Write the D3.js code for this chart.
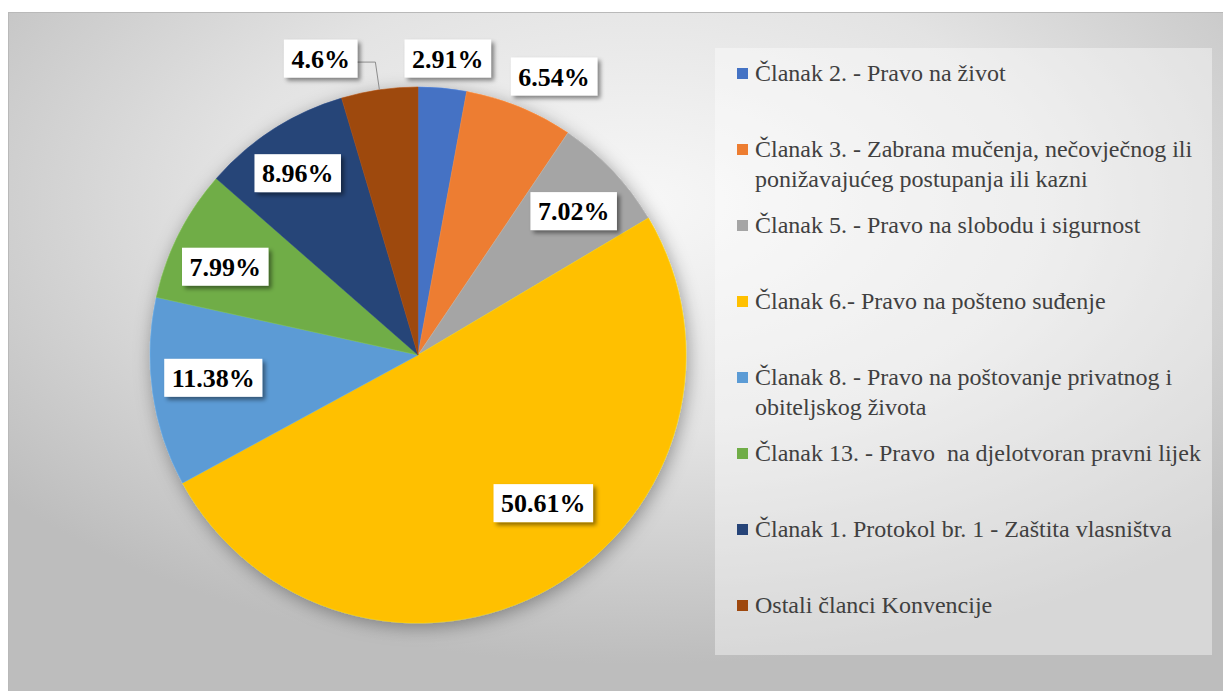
<!DOCTYPE html>
<html>
<head>
<meta charset="UTF-8">
<title>Članci Konvencije</title>
<script src="https://d3js.org/d3.v7.min.js"></script>
<style>
    body { margin: 0; background: #ffffff; }
    svg { display: block; }
</style>
</head>
<body>
<div id="chart"></div>
<script>
    // slice data, clockwise from 12 o'clock
    const categories = [
        "Članak 2. - Pravo na život",
        "Članak 3. - Zabrana mučenja, nečovječnog ili\nponižavajućeg postupanja ili kazni",
        "Članak 5. - Pravo na slobodu i sigurnost",
        "Članak 6.- Pravo na pošteno suđenje",
        "Članak 8. - Pravo na poštovanje privatnog i\nobiteljskog života",
        "Članak 13. - Pravo  na djelotvoran pravni lijek",
        "Članak 1. Protokol br. 1 - Zaštita vlasništva",
        "Ostali članci Konvencije"
    ];
    const shares = [2.91, 6.54, 7.02, 50.61, 11.38, 7.99, 8.96, 4.6];
    const colors = ["#4472C4", "#ED7D31", "#A5A5A5", "#FFC000", "#5B9BD5", "#70AD47", "#264478", "#9E480E"];

    // label placement (excel "best fit" look): distance from centre and angle nudge in degrees
    const labelRadius = [298, 310, 212, 194, 206, 212, 218, 312];
    const labelShift = [0.5, 3.8, 0.6, -10.6, 1.7, -2.2, -0.8, -9.9];
    const withLeader = [false, false, false, false, false, false, false, true];

    const fontSerif = "'Liberation Serif'";
    const width = 1223, height = 691;
    const cx = 418, cy = 355, radius = 268;

    const svg = d3.select("#chart").append("svg")
        .attr("width", width)
        .attr("height", height);

    const defs = svg.append("defs");
    const bg = defs.append("radialGradient")
        .attr("id", "bg")
        .attr("cx", "52%").attr("cy", "28%").attr("r", "68%");
    bg.append("stop").attr("offset", "0%").attr("stop-color", "#f7f7f7");
    bg.append("stop").attr("offset", "50%").attr("stop-color", "#e3e3e3");
    bg.append("stop").attr("offset", "100%").attr("stop-color", "#bdbdbd");

    defs.append("filter").attr("id", "pieShadow")
        .attr("x", "-20%").attr("y", "-20%").attr("width", "140%").attr("height", "140%")
        .append("feDropShadow")
        .attr("dx", 2).attr("dy", 4).attr("stdDeviation", 9)
        .attr("flood-color", "#000").attr("flood-opacity", 0.35);

    defs.append("filter").attr("id", "boxShadow")
        .attr("x", "-20%").attr("y", "-30%").attr("width", "150%").attr("height", "170%")
        .append("feDropShadow")
        .attr("dx", 3).attr("dy", 3).attr("stdDeviation", 2)
        .attr("flood-color", "#000").attr("flood-opacity", 0.45);

    // chart area
    svg.append("rect")
        .attr("x", 8.5).attr("y", 12.5)
        .attr("width", width - 8).attr("height", height - 12)
        .attr("fill", "url(#bg)")
        .attr("stroke", "#b9b9b9");

    // legend panel
    svg.append("rect")
        .attr("x", 715).attr("y", 48)
        .attr("width", 497).attr("height", 607)
        .attr("fill", "#ffffff").attr("fill-opacity", 0.4);

    const pie = d3.pie().value(d => d).sort(null);
    const arcs = pie(shares);
    const arc = d3.arc().innerRadius(0).outerRadius(radius);

    const g = svg.append("g").attr("transform", `translate(${cx},${cy})`);

    g.append("g")
        .attr("filter", "url(#pieShadow)")
        .selectAll("path")
        .data(arcs)
        .join("path")
        .attr("d", arc)
        .attr("fill", (d, i) => colors[i])
        .attr("stroke", (d, i) => d3.color(colors[i]).brighter(0.3))
        .attr("stroke-width", 0.6);

    const midAngle = d => (d.startAngle + d.endAngle) / 2;
    const polar = (a, r) => [Math.sin(a) * r, -Math.cos(a) * r];

    // leader lines
    arcs.forEach((d, i) => {
        if (!withLeader[i]) return;
        const a = midAngle(d);
        const p0 = polar(a, radius);
        const p1 = polar(a, radius + 28);
        const c = polar(a + labelShift[i] * Math.PI / 180, labelRadius[i]);
        g.append("polyline")
            .attr("points", [p0, p1, [c[0] + 30, p1[1]]].map(p => p.join(",")).join(" "))
            .attr("fill", "none")
            .attr("stroke", "#8c8c8c")
            .attr("stroke-width", 1);
    });

    // data labels
    const labels = g.selectAll("g.lbl")
        .data(arcs)
        .join("g")
        .attr("class", "lbl")
        .attr("transform", (d, i) => {
            const p = polar(midAngle(d) + labelShift[i] * Math.PI / 180, labelRadius[i]);
            return `translate(${p[0]},${p[1]})`;
        });

    labels.append("rect").attr("fill", "#ffffff").attr("filter", "url(#boxShadow)");
    labels.append("text")
        .attr("text-anchor", "middle")
        .attr("dy", "0.35em")
        .style("font-family", fontSerif)
        .style("font-size", "26px")
        .style("font-weight", "bold")
        .attr("fill", "#000")
        .text(d => (+d.data.toFixed(2)) + "%");

    labels.each(function() {
        const t = d3.select(this).select("text").node().getBBox();
        d3.select(this).select("rect")
            .attr("x", -t.width / 2 - 7.5)
            .attr("y", -19)
            .attr("width", t.width + 15)
            .attr("height", 38);
    });

    // legend
    const legend = svg.append("g")
        .attr("transform", "translate(737,73)");

    const item = legend.selectAll("g")
        .data(categories)
        .join("g")
        .attr("transform", (d, i) => `translate(0,${i * 76})`);

    item.append("rect")
        .attr("x", 0).attr("y", -5)
        .attr("width", 11).attr("height", 11)
        .attr("fill", (d, i) => colors[i]);

    item.append("text")
        .attr("x", 18)
        .attr("xml:space", "preserve")
        .style("font-family", fontSerif)
        .style("font-size", "24px")
        .attr("fill", "#404040")
        .selectAll("tspan")
        .data(d => d.split("\n"))
        .join("tspan")
        .attr("x", 18)
        .attr("y", (d, j) => j * 30)
        .attr("dy", "0.35em")
        .text(d => d);
</script>
</body>
</html>
